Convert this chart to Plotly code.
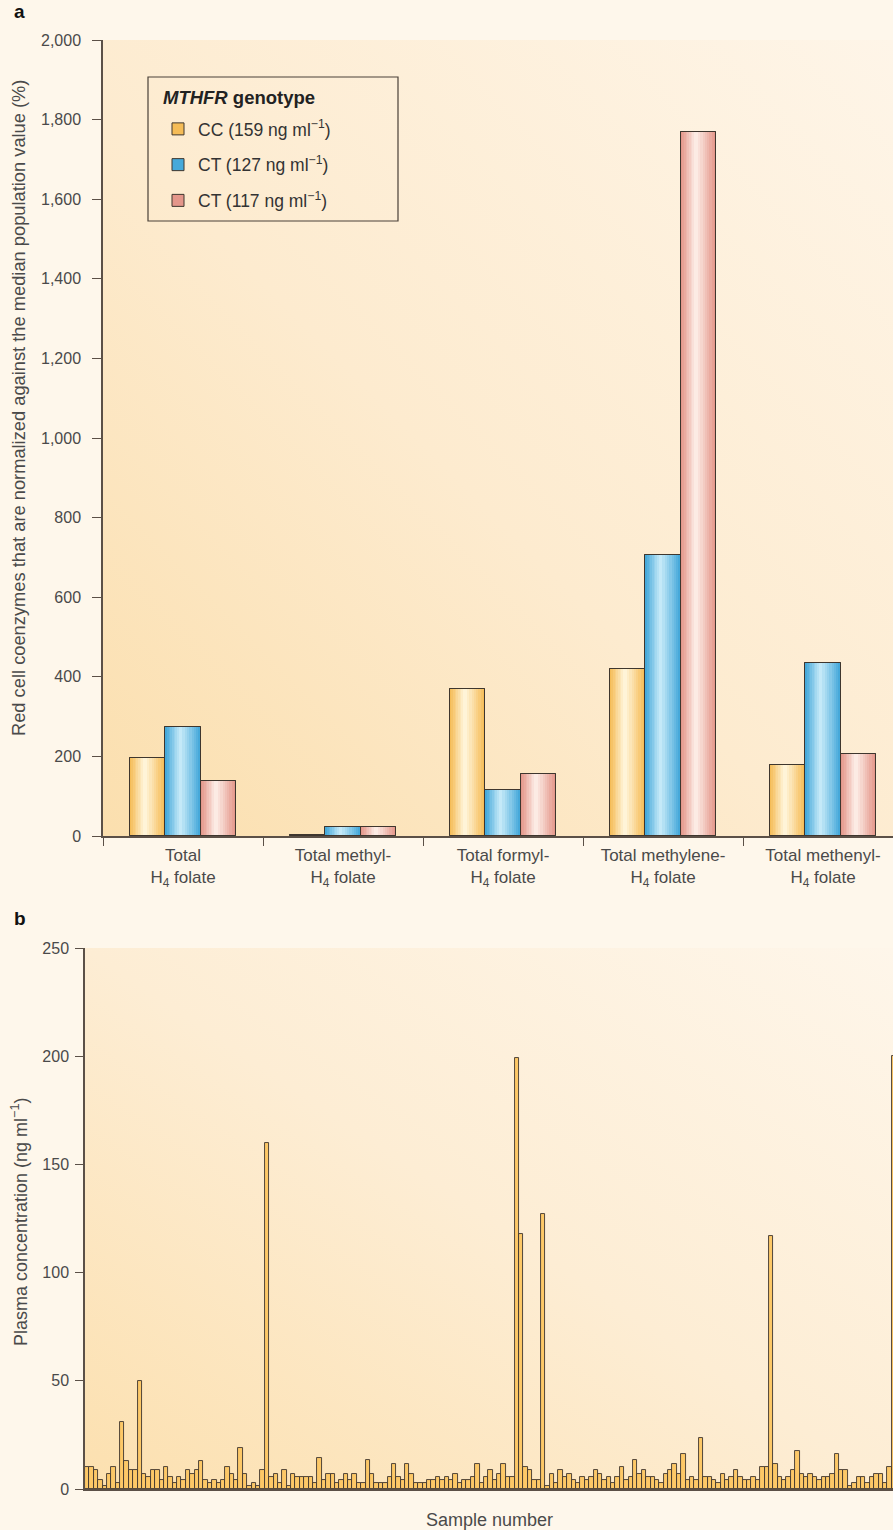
import base64
import plotly.graph_objects as go

W, H = 893, 1530

# ---------------- data ----------------
categories = [
    "Total<br>H<sub>4</sub> folate",
    "Total methyl-<br>H<sub>4</sub> folate",
    "Total formyl-<br>H<sub>4</sub> folate",
    "Total methylene-<br>H<sub>4</sub> folate",
    "Total methenyl-<br>H<sub>4</sub> folate",
]
legend_title = "<b><i>MTHFR</i> genotype</b>"
series_names = [
    "CC (159 ng ml<sup>−1</sup>)",
    "CT (127 ng ml<sup>−1</sup>)",
    "CT (117 ng ml<sup>−1</sup>)",
]
cc_values = [197, 3, 369, 420, 178]
ct127_values = [274, 22, 116, 706, 435]
ct117_values = [138, 22, 156, 1769, 206]
panel_a_ticks = list(range(0, 2001, 200))

plasma_values = [
    10, 10, 8.7, 4.3, 1.4, 7.1, 10, 3, 31, 13,
    8.7, 8.7, 50, 7.1, 5.7, 8.7, 8.7, 4.3, 10, 5.7,
    3, 5.7, 4.3, 8.7, 7.1, 8.7, 13, 4.3, 3, 4.3,
    3, 4.3, 10, 7.1, 4.3, 19, 7.1, 1.4, 3, 1.4,
    8.7, 160, 5.7, 7.1, 3, 8.7, 1.4, 7.1, 5.7, 5.7,
    5.7, 5.7, 3, 14.4, 4.3, 7.1, 7.1, 3, 4.3, 7.1,
    4.3, 7.1, 3, 3, 13.2, 7.1, 3, 3, 3, 5.7,
    11.5, 5.7, 4.3, 11.5, 7.1, 3, 3, 3, 4.3, 4.3,
    5.7, 4.3, 5.7, 4.3, 7.1, 3, 4.3, 4.3, 5.7, 11.5,
    3, 5.7, 8.7, 4.3, 7.1, 11.5, 5.7, 5.7, 199, 118,
    10, 8.7, 4.3, 4.3, 127, 1.4, 7.1, 3, 8.7, 5.7,
    7.1, 4.3, 3, 5.7, 4.3, 5.7, 8.7, 7.1, 4.3, 5.7,
    3, 5.7, 10, 4.3, 5.7, 13.2, 7.1, 8.7, 5.7, 5.7,
    4.3, 3, 7.1, 8.7, 11.5, 7.1, 16, 4.3, 5.7, 4.3,
    23.4, 5.7, 5.7, 4.3, 3, 7.1, 4.3, 5.7, 8.7, 5.7,
    4.3, 4.3, 5.7, 4.3, 10, 10, 117, 11.5, 5.7, 4.3,
    5.7, 8.7, 17.7, 7.1, 5.7, 7.1, 5.7, 4.3, 5.7, 5.7,
    7.1, 16, 8.7, 8.7, 1.4, 3, 5.7, 5.7, 3, 5.7,
    7.1, 7.1, 3, 10, 200,
]
sample_numbers = list(range(1, len(plasma_values) + 1))
panel_b_ticks = [0, 50, 100, 150, 200, 250]

# ---------------- style ----------------
FONT = "Liberation Sans, Arial, Helvetica, sans-serif"
TXT = "#4a4a4a"
AXIS = "#5b5047"
OUTLINE = "#3e362e"
PAPER = "#FEF7EB"

series_values = [cc_values, ct127_values, ct117_values]
edge_cols = ["#F5BC57", "#46A9DA", "#E4968A"]
center_cols = ["#FFF4D8", "#C4E9F8", "#FCEBE4"]


def px_x(x):
    return x / W


def px_y(y):
    return 1 - y / H


def hex2rgb(h):
    h = h.lstrip("#")
    return tuple(int(h[i:i + 2], 16) for i in (0, 2, 4))


def mix(c1, c2, t):
    a, b = hex2rgb(c1), hex2rgb(c2)
    return "rgb(%d,%d,%d)" % tuple(round(a[i] + (b[i] - a[i]) * t) for i in range(3))


def grad_svg(stops, x1, y1, x2, y2):
    s = "".join('<stop offset="%s" stop-color="%s"/>' % (o, c) for o, c in stops)
    svg = ('<svg xmlns="http://www.w3.org/2000/svg" width="100" height="100" '
           'viewBox="0 0 100 100" preserveAspectRatio="none"><defs>'
           '<linearGradient id="g" x1="%s" y1="%s" x2="%s" y2="%s">%s</linearGradient>'
           '</defs><rect width="100" height="100" fill="url(#g)"/></svg>') % (x1, y1, x2, y2, s)
    return "data:image/svg+xml;base64," + base64.b64encode(svg.encode()).decode()


fig = go.Figure()

# ---------------- panel a bars (stepped gradient) ----------------
BW = 0.222
GROUP_START = -0.333
K = 9
for s, (name, vals) in enumerate(zip(series_names, series_values)):
    base_off = GROUP_START + s * BW
    for k in range(K):
        w = BW * (1 - k / K)
        off = base_off + (BW - w) * 0.42
        fig.add_trace(go.Bar(
            x=categories, y=vals, xaxis="x", yaxis="y",
            offset=off, width=w,
            marker=dict(color=mix(edge_cols[s], center_cols[s], k / (K - 1)),
                        line=dict(width=1 if k == 0 else 0, color=OUTLINE)),
            name=name, showlegend=(k == 0), legendgroup="g%d" % s,
            hoverinfo="skip",
        ))
    fig.add_trace(go.Bar(
        x=categories, y=vals, xaxis="x", yaxis="y",
        offset=base_off, width=BW,
        marker=dict(color="rgba(0,0,0,0)", line=dict(width=1, color=OUTLINE)),
        showlegend=False, legendgroup="g%d" % s, hoverinfo="skip",
    ))

# ---------------- panel b bars ----------------
fig.add_trace(go.Bar(
    x=sample_numbers, y=plasma_values, xaxis="x2", yaxis="y2",
    width=1,
    marker=dict(color="#FDC867", line=dict(width=0.9, color=OUTLINE)),
    showlegend=False, hoverinfo="skip",
))

axis_common = dict(showline=True, linecolor=AXIS, linewidth=1.5, showgrid=False,
                   zeroline=False, tickcolor=AXIS, tickwidth=1.2, automargin=False,
                   tickfont=dict(family=FONT, size=16, color=TXT))

fig.update_layout(
    width=W, height=H,
    margin=dict(l=0, r=0, t=0, b=0, pad=0, autoexpand=False),
    paper_bgcolor=PAPER, plot_bgcolor="rgba(0,0,0,0)",
    barmode="overlay", bargap=0,
    font=dict(family=FONT, color=TXT),
    xaxis=dict(axis_common, domain=[px_x(103), 1], anchor="y", type="category",
               categoryorder="array", categoryarray=categories,
               range=[-0.5, 4.4375], tickson="boundaries", ticks="outside", ticklen=8,
               ticklabelstandoff=3,
               tickfont=dict(family=FONT, size=17, color=TXT)),
    yaxis=dict(axis_common, domain=[px_y(836), px_y(40)], anchor="x",
               range=[0, 2000], tickvals=panel_a_ticks, tickformat=",d",
               ticks="outside", ticklen=9, ticklabelstandoff=8),
    xaxis2=dict(axis_common, domain=[px_x(85), 1], anchor="y2",
                range=[0.5, 184.8], showticklabels=False, ticks=""),
    yaxis2=dict(axis_common, domain=[px_y(1489), px_y(948)], anchor="x2",
                range=[0, 250], tickvals=panel_b_ticks,
                ticks="outside", ticklen=8, ticklabelstandoff=3),
    legend=dict(
        x=px_x(158), y=px_y(111), xanchor="left", yanchor="top",
        bgcolor="rgba(0,0,0,0)", borderwidth=0,
        font=dict(family=FONT, size=17.5, color="#333"),
        tracegroupgap=10, traceorder="grouped",
    ),
    shapes=[dict(type="rect", xref="paper", yref="paper",
                 x0=px_x(148), x1=px_x(398), y0=px_y(221), y1=px_y(77),
                 line=dict(color="#4a4038", width=1.2), fillcolor="rgba(0,0,0,0)")],
    images=[
        dict(source=grad_svg([(0, "#FBDFAE"), (0.45, "#FDEBCF"), (1, "#FEF5E8")], 0, 1, 1, 0),
             xref="paper", yref="paper", x=px_x(103), y=px_y(40),
             sizex=1 - px_x(103), sizey=(836 - 40) / H,
             xanchor="left", yanchor="top", sizing="stretch", layer="below"),
        dict(source=grad_svg([(0, "#FCE0AF"), (0.5, "#FDEDD4"), (1, "#FEF6EA")], 0, 1, 1, 0),
             xref="paper", yref="paper", x=px_x(85), y=px_y(948),
             sizex=1 - px_x(85), sizey=(1489 - 948) / H,
             xanchor="left", yanchor="top", sizing="stretch", layer="below"),
    ],
    annotations=[
        dict(text=legend_title, x=px_x(161), y=px_y(98), xref="paper", yref="paper",
             xanchor="left", yanchor="middle", showarrow=False,
             font=dict(family=FONT, size=18.5, color="#222")),
        dict(text="<b>a</b>", x=px_x(12), y=px_y(12), xref="paper", yref="paper",
             xanchor="left", yanchor="middle", showarrow=False,
             font=dict(family=FONT, size=19, color="#111")),
        dict(text="<b>b</b>", x=px_x(12), y=px_y(918), xref="paper", yref="paper",
             xanchor="left", yanchor="middle", showarrow=False,
             font=dict(family=FONT, size=19, color="#111")),
        dict(text="Red cell coenzymes that are normalized against the median population value (%)",
             x=px_x(19), y=px_y(408), xref="paper", yref="paper", textangle=-90,
             xanchor="center", yanchor="middle", showarrow=False,
             font=dict(family=FONT, size=18.3, color=TXT)),
        dict(text="Plasma concentration (ng ml<sup>−1</sup>)",
             x=px_x(19), y=px_y(1222), xref="paper", yref="paper", textangle=-90,
             xanchor="center", yanchor="middle", showarrow=False,
             font=dict(family=FONT, size=18, color=TXT)),
        dict(text="Sample number", x=px_x(489), y=px_y(1520), xref="paper", yref="paper",
             xanchor="center", yanchor="middle", showarrow=False,
             font=dict(family=FONT, size=18, color=TXT)),
    ],
)

fig.write_html("out.html", config={"displayModeBar": False},
               post_script="document.body.style.margin='0';document.body.style.overflow='hidden';")
